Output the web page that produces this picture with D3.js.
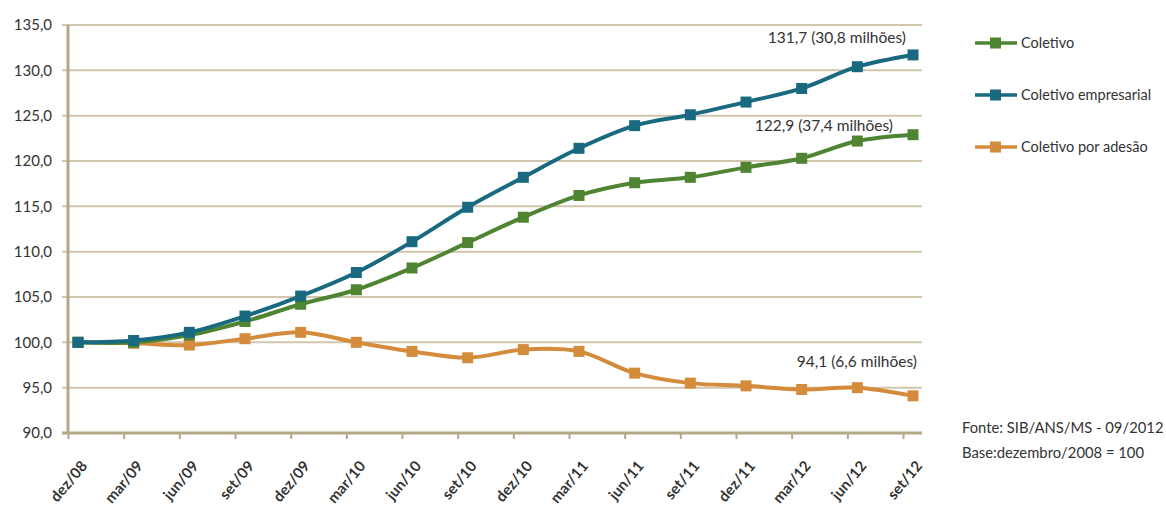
<!DOCTYPE html>
<html>
<head>
<meta charset="utf-8">
<script src="https://cdn.jsdelivr.net/npm/d3@7.9.0/dist/d3.min.js"></script>
<style>
  body { margin: 0; background: #fff; }
  text { font-family: Lato, "Open Sans", sans-serif; fill: #333; }
</style>
</head>
<body>
<div id="chart"></div>
<script>
// data
const periods = ['dez/08', 'mar/09', 'jun/09', 'set/09', 'dez/09', 'mar/10', 'jun/10', 'set/10',
    'dez/10', 'mar/11', 'jun/11', 'set/11', 'dez/11', 'mar/12', 'jun/12', 'set/12'];
const coletivo = [100.0, 100.0, 100.8, 102.3, 104.2, 105.8, 108.2, 111.0,
    113.8, 116.2, 117.6, 118.2, 119.3, 120.3, 122.2, 122.9];
const empresarial = [100.0, 100.2, 101.1, 102.9, 105.1, 107.7, 111.1, 114.9,
    118.2, 121.4, 123.9, 125.1, 126.5, 128.0, 130.4, 131.7];
const adesao = [100.0, 99.9, 99.7, 100.4, 101.1, 100.0, 99.0, 98.3,
    99.2, 99.0, 96.6, 95.5, 95.2, 94.8, 95.0, 94.1];
const yTicks = [90, 95, 100, 105, 110, 115, 120, 125, 130, 135];

const series = [
    { name: 'Coletivo', values: coletivo, color: '#4e8432', note: '122,9 (37,4 milhões)' },
    { name: 'Coletivo empresarial', values: empresarial, color: '#196a80', note: '131,7 (30,8 milhões)' },
    { name: 'Coletivo por adesão', values: adesao, color: '#d48c3c', note: '94,1 (6,6 milhões)' }
];

const width = 1166;
const height = 516;
const plot = { left: 68, right: 922, top: 25, bottom: 433 };

const svg = d3.select('#chart')
    .append('svg')
    .attr('width', width)
    .attr('height', height);

const xScale = d3.scalePoint().domain(periods).range([78, 913]);
const yScale = d3.scaleLinear().domain([90, 135]).range([plot.bottom, plot.top]);

// gridlines
svg.append('g')
    .selectAll('line')
    .data(yTicks.slice(1))
    .join('line')
    .attr('x1', plot.left - 6)
    .attr('x2', plot.right)
    .attr('y1', d => yScale(d))
    .attr('y2', d => yScale(d))
    .attr('stroke', '#cfc6ad')
    .attr('stroke-width', 2);

// y axis labels
svg.append('g')
    .selectAll('text')
    .data(yTicks)
    .join('text')
    .attr('x', 52)
    .attr('y', d => yScale(d))
    .attr('dy', '0.35em')
    .attr('text-anchor', 'end')
    .style('font-size', '15px')
    .text(d => d3.format('.1f')(d).replace('.', ','));

// axis lines
svg.append('line')
    .attr('x1', plot.left).attr('x2', plot.left)
    .attr('y1', plot.top).attr('y2', plot.bottom)
    .attr('stroke', '#b5a888').attr('stroke-width', 3);
svg.append('line')
    .attr('x1', plot.left - 6).attr('x2', plot.right)
    .attr('y1', plot.bottom).attr('y2', plot.bottom)
    .attr('stroke', '#b5a888').attr('stroke-width', 3);

// x tick marks (between categories)
svg.append('g')
    .selectAll('line')
    .data(periods)
    .join('line')
    .attr('x1', d => xScale(d) - 9.5)
    .attr('x2', d => xScale(d) - 9.5)
    .attr('y1', plot.bottom)
    .attr('y2', plot.bottom + 6)
    .attr('stroke', '#b5a888')
    .attr('stroke-width', 2);

// x labels
svg.append('g')
    .selectAll('text')
    .data(periods)
    .join('text')
    .attr('transform', d => `translate(${xScale(d) + 6}, 463) rotate(-50)`)
    .attr('text-anchor', 'end')
    .attr('dy', '0.35em')
    .style('font-size', '15px')
    .style('font-weight', 'bold')
    .text(d => d);

// lines
const line = d3.line()
    .x((d, i) => xScale(periods[i]))
    .y(d => yScale(d))
    .curve(d3.curveCatmullRom.alpha(0.5));

// draw order: adesao, coletivo, empresarial
const order = [series[2], series[0], series[1]];
for (const s of order) {
    svg.append('path')
        .datum(s.values)
        .attr('d', line)
        .attr('fill', 'none')
        .attr('stroke', s.color)
        .attr('stroke-width', 4);

    svg.append('g')
        .selectAll('rect')
        .data(s.values)
        .join('rect')
        .attr('x', (d, i) => xScale(periods[i]) - 5.5)
        .attr('y', d => yScale(d) - 5.5)
        .attr('width', 11)
        .attr('height', 11)
        .attr('fill', s.color);
}

// annotations
svg.append('text').attr('x', 906).attr('y', 38).attr('dy', '0.35em')
    .attr('text-anchor', 'end').style('font-size', '15.5px').text(series[1].note);
svg.append('text').attr('x', 893).attr('y', 126).attr('dy', '0.35em')
    .attr('text-anchor', 'end').style('font-size', '15.5px').text(series[0].note);
svg.append('text').attr('x', 917).attr('y', 362).attr('dy', '0.35em')
    .attr('text-anchor', 'end').style('font-size', '15.5px').text(series[2].note);

// legend
const legend = svg.append('g')
    .selectAll('g')
    .data(series)
    .join('g')
    .attr('transform', (d, i) => `translate(975, ${43 + i * 52})`);
legend.append('line')
    .attr('x1', 0).attr('x2', 42)
    .attr('stroke', d => d.color).attr('stroke-width', 3.5);
legend.append('rect')
    .attr('x', 15).attr('y', -5.5).attr('width', 11).attr('height', 11)
    .attr('fill', d => d.color);
legend.append('text')
    .attr('x', 46).attr('dy', '0.35em')
    .style('font-size', '14.5px')
    .text(d => d.name);

// source
svg.append('text').attr('x', 962).attr('y', 428).attr('dy', '0.35em')
    .style('font-size', '14.8px').text('Fonte: SIB/ANS/MS - 09/2012');
svg.append('text').attr('x', 962).attr('y', 453).attr('dy', '0.35em')
    .style('font-size', '14.8px').text('Base:dezembro/2008 = 100');
</script>
</body>
</html>
